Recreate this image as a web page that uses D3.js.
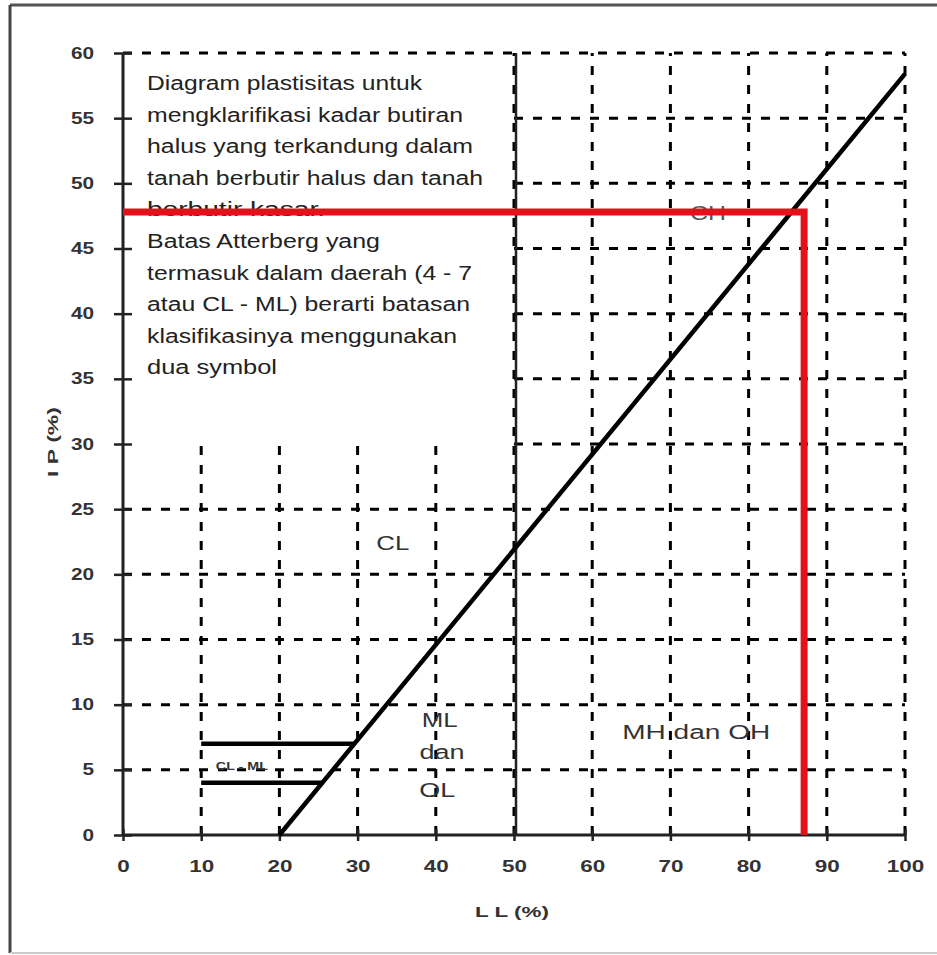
<!DOCTYPE html>
<html>
<head>
<meta charset="utf-8">
<script src="https://cdn.jsdelivr.net/npm/d3@7"></script>
<style>
  html, body { margin: 0; padding: 0; background: #fff; }
  svg { display: block; }
  text { font-family: "Liberation Sans", Arial, sans-serif; }
</style>
</head>
<body>
<svg id="chart" width="937" height="955"></svg>
<script>
// ---------- data ----------
const X_TICKS = [0, 10, 20, 30, 40, 50, 60, 70, 80, 90, 100];
const Y_TICKS = [0, 5, 10, 15, 20, 25, 30, 35, 40, 45, 50, 55, 60];
const A_LINE = [[20, 0], [100, 58.4]];
const CLML_UPPER = [[10, 7], [29.6, 7]];
const CLML_LOWER = [[10, 4], [25.5, 4]];
const RED_POINT = [87.1, 47.8];
const X_TITLE = "L L (%)";
const Y_TITLE = "I P (%)";
const NOTE_LINES = [
  "Diagram plastisitas untuk",
  "mengklarifikasi kadar butiran",
  "halus yang terkandung dalam",
  "tanah berbutir halus dan tanah",
  "berbutir kasar.",
  "Batas Atterberg yang",
  "termasuk dalam daerah (4 - 7",
  "atau CL - ML) berarti batasan",
  "klasifikasinya menggunakan",
  "dua symbol"
];
const ZONE_LABELS = ["CL", "CH", "ML", "dan", "OL", "MH dan OH", "CL - ML"];
// grid extents (data units)
const H_GRID_FULL = [5, 10, 15, 20, 25, 60];
const H_GRID_RIGHT = [30, 35, 40, 45, 50, 55];
const V_GRID_LOW = [10, 20, 30, 40];
const V_GRID_FULL = [50, 60, 70, 80, 90, 100];

// ---------- layout ----------
const svg = d3.select("#chart");
const x = d3.scaleLinear().domain([0, 100]).range([123, 905]);
const y = d3.scaleLinear().domain([0, 60]).range([835, 53]);

// outer frame
svg.append("line").attr("x1", 10).attr("x2", 937).attr("y1", 5).attr("y2", 5)
  .attr("stroke", "#555").attr("stroke-width", 3);
svg.append("line").attr("x1", 10).attr("x2", 10).attr("y1", 5).attr("y2", 953)
  .attr("stroke", "#444").attr("stroke-width", 3);
svg.append("line").attr("x1", 10).attr("x2", 937).attr("y1", 953).attr("y2", 953)
  .attr("stroke", "#ccc").attr("stroke-width", 2);

const dash = "9,10";
const grid = svg.append("g").attr("stroke", "#000").attr("stroke-width", 3)
  .attr("stroke-dasharray", dash).attr("fill", "none");
H_GRID_FULL.forEach(v => grid.append("line")
  .attr("x1", x(0)).attr("x2", x(100)).attr("y1", y(v)).attr("y2", y(v)));
H_GRID_RIGHT.forEach(v => grid.append("line")
  .attr("x1", x(50)).attr("x2", x(100)).attr("y1", y(v)).attr("y2", y(v)));
V_GRID_LOW.forEach(v => grid.append("line")
  .attr("x1", x(v)).attr("x2", x(v)).attr("y1", y(0)).attr("y2", y(30)));
V_GRID_FULL.forEach(v => grid.append("line")
  .attr("x1", x(v)).attr("x2", x(v)).attr("y1", y(0)).attr("y2", y(60)));

// solid line at LL = 50
svg.append("line").attr("x1", x(50) + 2).attr("x2", x(50) + 2).attr("y1", y(0)).attr("y2", y(60))
  .attr("stroke", "#222").attr("stroke-width", 2.5);

// axes
const fit = (sel, f) => sel.each(function () {
  const w = this.getComputedTextLength();
  d3.select(this).attr("textLength", w * f).attr("lengthAdjust", "spacingAndGlyphs");
});

const yAxis = svg.append("g").attr("transform", `translate(${x(0)},0)`)
  .call(d3.axisLeft(y).tickValues(Y_TICKS).tickSize(9).tickPadding(20));
yAxis.select(".domain").attr("stroke", "#222").attr("stroke-width", 3)
  .attr("d", `M0,${y(0)}V${y(60)}`);
yAxis.selectAll(".tick line").attr("x1", -9).attr("x2", 9).attr("stroke", "#222").attr("stroke-width", 2.5);
yAxis.selectAll(".tick text").attr("font-size", 16).attr("font-weight", "bold").attr("fill", "#333")
  .attr("font-family", "Liberation Sans, Arial, sans-serif").call(fit, 1.3);

const xAxis = svg.append("g").attr("transform", `translate(0,${y(0)})`)
  .call(d3.axisBottom(x).tickValues(X_TICKS).tickSize(6).tickPadding(20));
xAxis.select(".domain").attr("stroke", "#222").attr("stroke-width", 3)
  .attr("d", `M${x(0)},0H${x(100)}`);
xAxis.selectAll(".tick line").attr("y1", -6).attr("y2", 6).attr("stroke", "#222").attr("stroke-width", 2.5);
xAxis.selectAll(".tick text").attr("font-size", 16).attr("font-weight", "bold").attr("fill", "#333")
  .attr("font-family", "Liberation Sans, Arial, sans-serif").call(fit, 1.4);

// axis titles
svg.append("text").attr("x", 512).attr("y", 917).attr("text-anchor", "middle")
  .attr("font-size", 15).attr("font-weight", "bold").attr("fill", "#333").text(X_TITLE)
  .attr("textLength", 74).attr("lengthAdjust", "spacingAndGlyphs");
svg.append("text").attr("transform", "translate(58,442) rotate(-90)").attr("text-anchor", "middle")
  .attr("font-size", 15).attr("font-weight", "bold").attr("fill", "#333").text(Y_TITLE)
  .attr("textLength", 70).attr("lengthAdjust", "spacingAndGlyphs");

// A-line and CL-ML limits
const line = d3.line().x(d => x(d[0])).y(d => y(d[1]));
[A_LINE, CLML_UPPER, CLML_LOWER].forEach(pts =>
  svg.append("path").attr("d", line(pts)).attr("fill", "none")
    .attr("stroke", "#000").attr("stroke-width", 4.5));

// note text block
const noteWidths = [275, 316, 326, 336, 178, 233, 325, 323, 310, 130];
NOTE_LINES.forEach((t, i) => {
  svg.append("text").attr("x", 147).attr("y", 90 + i * 31.6)
    .attr("font-size", 20).attr("fill", "#222")
    .attr("textLength", noteWidths[i]).attr("lengthAdjust", "spacingAndGlyphs").text(t);
});

// zone labels
const labelPos = [[34.5, 22.4, 20, 33], [74.8, 47.7, 20, 36], [40.5, 8.8, 20, 36], [40.8, 6.4, 20, 45],
                  [40.2, 3.45, 20, 36], [73.3, 7.9, 20, 148], [15.2, 5.3, 11, 52]];
ZONE_LABELS.forEach((t, i) => {
  const [lx, ly, fs, w] = labelPos[i];
  svg.append("text").attr("x", x(lx)).attr("y", y(ly)).attr("dy", "0.35em")
    .attr("text-anchor", "middle").attr("font-size", fs)
    .attr("font-weight", i === 6 ? "bold" : "normal")
    .attr("fill", i === 1 ? "#555" : "#333")
    .attr("textLength", w).attr("lengthAdjust", "spacingAndGlyphs").text(t);
});

// red reading lines
svg.append("path")
  .attr("d", line([[0, RED_POINT[1]], [RED_POINT[0], RED_POINT[1]], [RED_POINT[0], 0]]))
  .attr("fill", "none").attr("stroke", "#e3121a").attr("stroke-width", 7)
  .attr("stroke-linejoin", "miter");
</script>
</body>
</html>
